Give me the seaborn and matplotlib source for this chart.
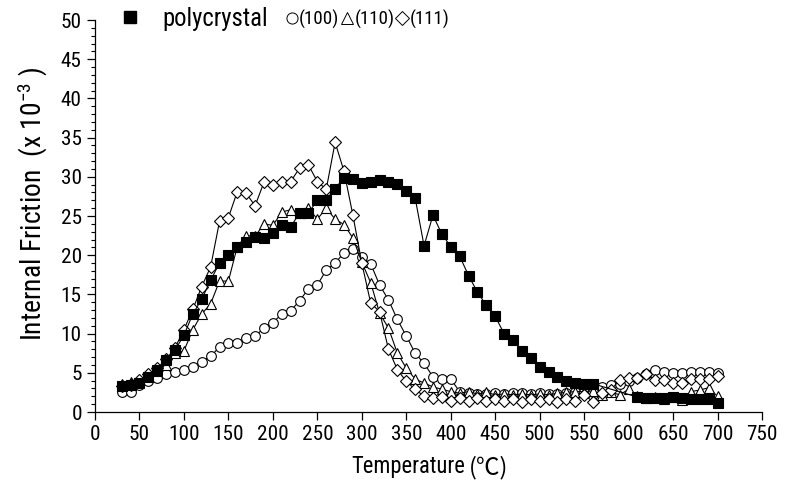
import numpy as np
import pandas as pd
import matplotlib
matplotlib.use("Agg")
import matplotlib.pyplot as plt
from matplotlib import font_manager as fm
from matplotlib.lines import Line2D
from matplotlib.ticker import MultipleLocator
import seaborn as sns

# ---------------- data ----------------
temp_full = list(range(30, 710, 10))
temp_poly = list(range(30, 570, 10)) + list(range(610, 710, 10))

poly = [3.3, 3.5, 3.7, 4.5, 5.4, 6.6, 7.9, 9.8, 12.5, 14.4, 16.8, 19.0, 20.0, 21.0,
        21.7, 22.3, 22.2, 22.8, 23.9, 23.6, 25.4, 25.4, 27.0, 27.1, 28.5, 29.9, 29.7,
        29.2, 29.4, 29.6, 29.4, 29.1, 28.2, 27.3, 21.2, 25.1, 22.7, 21.1, 19.9, 17.4,
        15.3, 13.6, 12.2, 10.0, 9.2, 7.8, 6.9, 5.8, 5.1, 4.5, 3.9, 3.7, 3.6, 3.6,
        1.9, 1.8, 1.8, 1.8, 1.9, 1.8, 1.6, 1.6, 1.6, 1.1]

c100 = [2.6, 2.6, 3.4, 4.0, 4.3, 4.8, 5.1, 5.4, 5.8, 6.4, 7.1, 8.3, 8.8, 8.8, 9.4,
        9.7, 10.7, 11.4, 12.5, 12.9, 14.2, 15.7, 16.2, 18.1, 19.0, 20.3, 20.8, 19.8,
        18.9, 16.2, 14.3, 11.8, 9.7, 7.5, 6.2, 4.5, 4.2, 4.2, 2.6, 2.4, 2.3, 2.3, 2.4,
        2.3, 2.4, 2.4, 2.3, 2.4, 2.3, 2.3, 2.4, 2.5, 2.5, 2.6, 3.2, 3.4, 3.6, 4.0, 4.3,
        4.8, 5.3, 5.1, 5.0, 5.0, 5.1, 5.1, 5.1, 5.0]

c110 = [3.6, 3.8, 4.1, 4.6, 5.2, 6.0, 7.5, 7.8, 10.5, 12.5, 13.8, 16.7, 16.7, 21.1,
        22.5, 22.4, 24.0, 23.8, 25.5, 25.8, 25.4, 26.0, 24.6, 26.0, 24.6, 23.9, 22.2,
        19.1, 16.5, 12.6, 10.7, 7.5, 5.6, 4.2, 3.7, 3.2, 2.9, 2.6, 2.4, 2.6, 2.3, 2.5,
        2.2, 2.3, 2.2, 2.3, 2.2, 2.3, 2.2, 2.4, 2.5, 2.6, 2.6, 2.7, 2.2, 2.5, 2.2, 2.9,
        2.1, 1.8, 1.9, 1.6, 1.9, 1.5, 2.6, 2.8, 3.1, 2.0]

c111 = [3.3, 3.4, 4.1, 4.85, 5.6, 6.7, 8.2, 10.5, 13.1, 16.0, 18.5, 24.3, 24.8, 28.1,
        27.9, 26.3, 29.3, 28.9, 29.3, 29.4, 31.1, 31.5, 29.4, 28.4, 34.4, 30.7, 25.1,
        19.0, 13.9, 12.8, 8.0, 5.4, 3.9, 2.9, 2.0, 1.75, 1.9, 1.45, 1.8, 1.4, 1.8, 1.4,
        1.7, 1.4, 1.7, 1.3, 1.7, 1.4, 1.6, 1.3, 1.6, 1.4, 2.2, 1.3, 2.4, 2.8, 4.1, 4.4,
        4.4, 4.85, 4.1, 4.1, 3.7, 3.7, 4.2, 4.2, 4.2, 4.6]

series_names = ["polycrystal", "(100)", "(110)", "(111)"]
x_ticks = list(range(0, 800, 50))
y_ticks = list(range(0, 55, 5))

# ---------------- style ----------------
sns.set_style("ticks")

# look for a narrow / condensed sans face; width factor relative to Liberation Sans
entries = fm.fontManager.ttflist
names = {f.name for f in entries}
family, stretch, wf = "Liberation Sans", "normal", 1.0
if "Liberation Sans Narrow" in names:
    family, stretch, wf = "Liberation Sans Narrow", "normal", 0.82
elif "Roboto Condensed" in names:
    family, stretch, wf = "Roboto Condensed", "normal", 0.9
else:
    for fam, f_w in [("Noto Sans", 0.92), ("Open Sans", 0.92)]:
        if any(e.name == fam and e.stretch == "condensed" and e.style == "normal"
               and e.weight in (400, "normal", "regular") for e in entries):
            family, stretch, wf = fam, "condensed", f_w
            break

plt.rcParams["font.family"] = [family, "Noto Sans CJK SC", "DejaVu Sans"]
plt.rcParams["font.stretch"] = stretch
plt.rcParams["mathtext.default"] = "regular"
for key in ["text.color", "axes.labelcolor", "xtick.color", "ytick.color",
            "axes.edgecolor"]:
    plt.rcParams[key] = "black"

# sizes matched by text width (Liberation Sans equivalents)
fs_tick = 13.8 / wf
fs_xlab = 14.6 / wf
fs_ylab = 17.9 / wf
fs_leg1 = 16.0 / wf
fs_leg2 = 12.3 / wf

W, H = 785, 484
fig = plt.figure(figsize=(W / 100, H / 100), dpi=100)
ax = fig.add_axes([95 / W, (H - 412) / H, 667 / W, 392 / H])

styles = {
    "polycrystal": dict(marker="s", ms=6.5, mfc="black", mec="black"),
    "(100)": dict(marker="o", ms=7, mfc="white", mec="black"),
    "(110)": dict(marker="^", ms=7.5, mfc="white", mec="black"),
    "(111)": dict(marker="D", ms=6, mfc="white", mec="black"),
}

dfs = {
    "polycrystal": pd.DataFrame({"T": temp_poly, "IF": poly}),
    "(100)": pd.DataFrame({"T": temp_full, "IF": c100}),
    "(110)": pd.DataFrame({"T": temp_full, "IF": c110}),
    "(111)": pd.DataFrame({"T": temp_full, "IF": c111}),
}

for name in ["(100)", "(110)", "(111)", "polycrystal"]:
    st = styles[name]
    sns.lineplot(data=dfs[name], x="T", y="IF", ax=ax, color="black", linewidth=0.8,
                 marker=st["marker"], markersize=st["ms"], markerfacecolor=st["mfc"],
                 markeredgecolor=st["mec"], markeredgewidth=0.8, legend=False)

ax.set_xlim(0, 750)
ax.set_ylim(0, 50)
ax.set_xticks(x_ticks)
ax.set_yticks(y_ticks)
ax.yaxis.set_minor_locator(MultipleLocator(1))
ax.tick_params(axis="both", which="major", direction="out", length=5.5, width=0.9,
               labelsize=fs_tick, colors="black")
ax.tick_params(axis="x", which="major", pad=4)
ax.tick_params(axis="y", which="major", pad=4)
ax.tick_params(axis="y", which="minor", direction="out", length=3, width=0.8)
for s in ["top", "right"]:
    ax.spines[s].set_visible(False)
for s in ["left", "bottom"]:
    ax.spines[s].set_linewidth(0.9)

ax.set_ylabel("Internal Friction  (x 10$^{-3}$ )", fontsize=fs_ylab)
ax.yaxis.set_label_coords(-0.068, 0.53)

# x label: Latin part in the main font, "(℃)" in a CJK face as in the reference
ax.set_xlabel("Temperature", fontsize=fs_xlab)
unit = ax.annotate("(℃)", xy=(1, 0), xycoords=ax.xaxis.label, xytext=(3, -1),
                   textcoords="offset points", ha="left", va="bottom",
                   fontsize=17, family=["Noto Sans CJK SC", "DejaVu Sans"])
fig.canvas.draw()
rend = fig.canvas.get_renderer()
w1 = ax.xaxis.label.get_window_extent(rend).width
w2 = unit.get_window_extent(rend).width + 3 * 100 / 72
total = w1 + w2
center_px = 430.0
label_center = center_px - total / 2 + w1 / 2
label_top_px = 455.0
ax.xaxis.set_label_coords((label_center - 95) / 667, -(label_top_px - 412) / 392)
ax.xaxis.label.set_va("top")

# legend: first entry
h_poly = [Line2D([], [], linestyle="none", marker="s", ms=8.5, mfc="black", mec="black")]
leg1 = ax.legend(h_poly, series_names[:1], frameon=False, loc="center left",
                 bbox_to_anchor=(121 / W, 1 - 19 / H), bbox_transform=fig.transFigure,
                 fontsize=fs_leg1, handlelength=17.8 / (fs_leg1 * 100 / 72),
                 handletextpad=24.0 / (fs_leg1 * 100 / 72), borderpad=0, borderaxespad=0)
ax.add_artist(leg1)

h_rest = [
    Line2D([], [], linestyle="none", marker="o", ms=8, mfc="white", mec="black", mew=0.7),
    Line2D([], [], linestyle="none", marker="^", ms=8.5, mfc="white", mec="black", mew=0.7),
    Line2D([], [], linestyle="none", marker="D", ms=7, mfc="white", mec="black", mew=0.7),
]
em2 = fs_leg2 * 100 / 72
ax.legend(h_rest, series_names[1:], ncol=3, frameon=False, loc="center left",
          bbox_to_anchor=(287 / W, 1 - 19 / H), bbox_transform=fig.transFigure,
          fontsize=fs_leg2, handlelength=10.4 / em2, handletextpad=1.8 / em2,
          columnspacing=2.6 / em2, borderpad=0, borderaxespad=0)

fig.savefig("out.png", dpi=100)
